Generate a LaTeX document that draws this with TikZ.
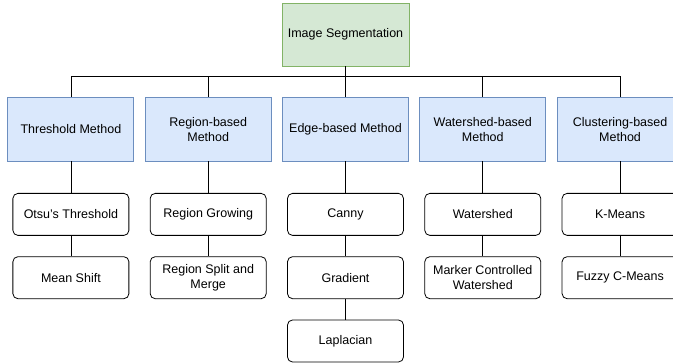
\documentclass[tikz,border=0pt]{standalone}
\usepackage{fontspec}
\setmainfont{Liberation Sans}
\usetikzlibrary{arrows,backgrounds,shapes.geometric}
\definecolor{rootfill}{HTML}{D5E8D4}
\definecolor{rootline}{HTML}{82B366}
\definecolor{methodfill}{HTML}{DAE8FC}
\definecolor{methodline}{HTML}{6C8EBF}

\begin{document}
\begin{tikzpicture}[x=1pt,y=-1pt,font=\fontsize{12.5}{15}\selectfont]
\tikzstyle{block_root} = [rectangle, draw=rootline, fill=rootfill, line width=0.8pt,
align=center, minimum width=127pt, minimum height=63pt, inner sep=1pt]
\tikzstyle{block_method} = [rectangle, draw=methodline, fill=methodfill, line width=0.8pt,
align=center, minimum width=126pt, minimum height=64pt, inner sep=1pt]
\tikzstyle{block_tech} = [rectangle, draw, fill=white, line width=0.8pt, rounded corners=5pt,
align=center, minimum width=116pt, minimum height=42pt, inner sep=1pt]
\tikzstyle{line} = [draw, line width=0.8pt];
\useasboundingbox (0,0) rectangle (673,363);
\clip (0,0) rectangle (673,363);
\fill[white] (0,0) rectangle (673,363);
\node [block_root] (seg) at (345.5,34.5) {Image Segmentation};
\matrix [column sep=10.5pt, row sep=20.5pt, anchor=north, inner sep=0pt] at (345.5,96.5)
{
% row 1
\node [block_method] (thresh) {Threshold Method}; &
\node [block_method] (region) {Region-based\\Method}; &
\node [block_method] (edge) {Edge-based Method}; &
\node [block_method] (water) {Watershed-based\\Method}; &
\node [block_method] (cluster) {Clustering-based\\Method}; \\[11pt]
% row 2
\node [block_tech] (otsu) {Otsu's Threshold}; &
\node [block_tech] (grow) {Region Growing}; &
\node [block_tech] (canny) {Canny}; &
\node [block_tech] (wshed) {Watershed}; &
\node [block_tech] (kmeans) {K-Means}; \\
% row 3
\node [block_tech] (shift) {Mean Shift}; &
\node [block_tech] (split) {Region Split and\\Merge}; &
\node [block_tech] (grad) {Gradient}; &
\node [block_tech] (marker) {Marker Controlled\\Watershed}; &
\node [block_tech] (fuzzy) {Fuzzy C-Means}; \\
% row 4
& & \node [block_tech] (lap) {Laplacian}; & & \\
};
\tikzstyle{every path}=[line]
\path (seg) -- (edge);
\path (seg.south) -- ++(0,10) -| (thresh.north);
\path (seg.south) -- ++(0,10) -| (region.north);
\path (seg.south) -- ++(0,10) -| (water.north);
\path (seg.south) -- ++(0,10) -| (cluster.north);
\path (thresh) -- (otsu);
\path (otsu) -- (shift);
\path (region) -- (grow);
\path (grow) -- (split);
\path (edge) -- (canny);
\path (canny) -- (grad);
\path (grad) -- (lap);
\path (water) -- (wshed);
\path (wshed) -- (marker);
\path (cluster) -- (kmeans);
\path (kmeans) -- (fuzzy);
\end{tikzpicture}
\end{document}
